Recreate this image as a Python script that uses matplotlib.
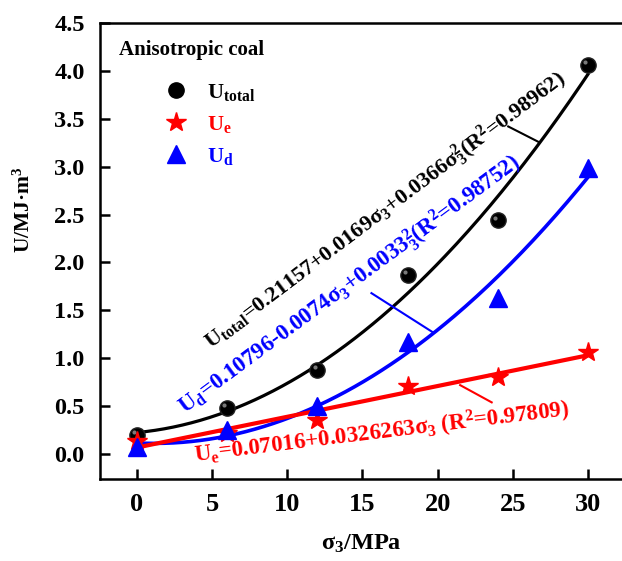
import numpy as np
import matplotlib
matplotlib.use("Agg")
import matplotlib.pyplot as plt
from matplotlib.lines import Line2D
from matplotlib.transforms import offset_copy

plt.rcParams["font.family"] = ["Liberation Serif", "DejaVu Serif"]
plt.rcParams["font.weight"] = "bold"
plt.rcParams["mathtext.fontset"] = "custom"
plt.rcParams["mathtext.rm"] = "Liberation Serif:bold"
plt.rcParams["mathtext.it"] = "Liberation Serif:bold"
plt.rcParams["mathtext.bf"] = "Liberation Serif:bold"

# data
sigma3 = [0, 6, 12, 18, 24, 30]
u_total = [0.20, 0.48, 0.88, 1.87, 2.44, 4.06]
u_e = [0.14, 0.22, 0.36, 0.71, 0.80, 1.07]
u_d = [0.07, 0.25, 0.50, 1.17, 1.63, 2.99]

eq_total = r"U$_{total}$=0.21157+0.0169σ$_3$+0.0366σ$_3^2$(R$^2$=0.98962)"
eq_d = r"U$_d$=0.10796-0.0074σ$_3$+0.0033$_3^2$(R$^2$=0.98752)"
eq_e = r"U$_e$=0.07016+0.0326263σ$_3$ (R$^2$=0.97809)"

RED = "#ff0000"
BLUE = "#0000ff"

fig = plt.figure(figsize=(6.22, 5.61), dpi=100)
ax = fig.add_axes([100/622, 82/561, 522/622, 456/561])

x = np.array(sigma3, dtype=float)
xs = np.linspace(0, 30, 200)

# fitted curves
p_tot = np.polyfit(x, u_total, 2)
p_d = np.polyfit(x, u_d, 2)
p_e = np.polyfit(x, u_e, 1)
ax.plot(xs, np.polyval(p_tot, xs), color="black", lw=2.3, zorder=2)
ax.plot(xs, np.polyval(p_d, xs), color=BLUE, lw=2.6, zorder=2)
ax.plot(xs, np.polyval(p_e, xs), color=RED, lw=3.0, zorder=2)

# points (black ones get a small glint so they look like balls)
ax.plot(x, u_total, "o", color="black", mec="#222222", ms=11, zorder=3)
glint = offset_copy(ax.transData, fig=fig, x=-2, y=2, units="points")
ax.plot(x, u_total, "o", color="#9a9a9a", mec="none", ms=3, alpha=0.8,
        transform=glint, zorder=3)
ax.plot(x, u_e, "*", color=RED, ms=15, zorder=3)
ax.plot(x, u_d, "^", color=BLUE, ms=13, zorder=3)

# equations
ax.text(0.546, 0.59, eq_total, transform=ax.transAxes, rotation=37,
        rotation_mode="anchor", ha="center", va="center", fontsize=16,
        color="black")
ax.text(0.479, 0.425, eq_d, transform=ax.transAxes, rotation=36.5,
        rotation_mode="anchor", ha="center", va="center", fontsize=16.5,
        color=BLUE)
ax.text(0.54, 0.10, eq_e, transform=ax.transAxes, rotation=7,
        rotation_mode="anchor", ha="center", va="center", fontsize=16.5,
        color=RED)

# leader lines
ax.plot([24.7, 26.7], [3.42, 3.26], color="black", lw=1.5)
ax.plot([15.6, 19.7], [1.68, 1.27], color=BLUE, lw=1.5)
ax.plot([21.5, 23.6], [0.72, 0.54], color=RED, lw=1.5)

# legend
ax.text(-1.2, 4.22, "Anisotropic coal", fontsize=15, fontweight="bold",
        va="center")
handles = [
    Line2D([], [], ls="none", marker="o", color="black", ms=11),
    Line2D([], [], ls="none", marker="*", color=RED, ms=15),
    Line2D([], [], ls="none", marker="^", color=BLUE, ms=13),
]
labels = [r"U$_{total}$", r"U$_e$", r"U$_d$"]
leg = ax.legend(handles, labels, loc="upper left", bbox_to_anchor=(0.065, 0.915),
                frameon=False, fontsize=16, handletextpad=0.4,
                labelspacing=0.5)
for t, c in zip(leg.get_texts(), ["black", RED, BLUE]):
    t.set_color(c)

ax.set_xlim(-2.46, 32.27)
ax.set_ylim(-0.26, 4.5)
ax.set_xticks([0, 5, 10, 15, 20, 25, 30])
ax.set_yticks(np.arange(0, 4.51, 0.5))
ax.yaxis.set_major_formatter(matplotlib.ticker.FormatStrFormatter("%.1f"))
ax.tick_params(direction="in", length=7.5, width=1.8)
ax.tick_params(axis="x", labelsize=19, pad=10)
ax.tick_params(axis="y", labelsize=17.5, pad=11)
for s in ["left", "top", "bottom"]:
    ax.spines[s].set_linewidth(1.8)
ax.spines["right"].set_visible(False)

ax.set_xlabel("σ$_3$/MPa", fontsize=17.5, fontweight="bold", labelpad=12)
ax.set_ylabel("U/MJ·m$^3$", fontsize=15.5, fontweight="bold")
ax.yaxis.set_label_coords(-0.125, 0.59)

fig.savefig("out.png", dpi=100)
